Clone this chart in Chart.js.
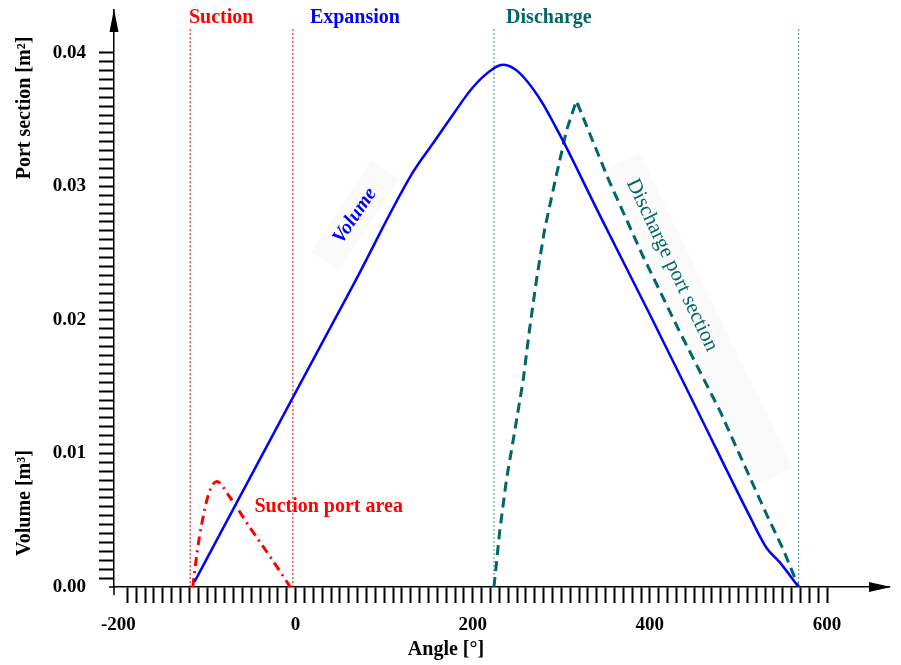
<!doctype html>
<html lang="en">
<head>
<meta charset="utf-8">
<title>Volume and port sections vs angle</title>
<style>
  * { margin: 0; padding: 0; }
  body { background: #fff; }
</style>
</head>
<body>
<canvas id="myChart" width="901" height="665"></canvas>
<script src="https://cdn.jsdelivr.net/npm/chart.js"></script>
<script>
// values: angle in degrees, volume in m3, port sections in m2
const volumeAngle = [-114, -3, 65, 132, 155, 178, 200, 223, 234, 247, 261, 279, 294, 302, 343, 400, 456, 512, 532, 546, 568];
const volumeM3    = [0.0004, 0.0142, 0.0226, 0.0310, 0.0332, 0.0354, 0.0374, 0.0388, 0.0391, 0.0388, 0.0379, 0.0362, 0.0344, 0.0334, 0.0279, 0.0204, 0.0129, 0.0054, 0.0029, 0.0019, 0.0000];

const dischargeAngle = [224, 230.5, 238, 247.5, 257, 264, 272, 281, 293, 306, 317, 354, 392, 433, 479, 532, 550, 568];
const dischargeM2    = [0.0000, 0.0042, 0.0080, 0.0117, 0.0155, 0.0192, 0.0230, 0.0267, 0.0304, 0.0342, 0.0364, 0.0304, 0.0248, 0.0192, 0.0132, 0.0054, 0.0029, 0.0000];

const suctionAngle = [-116, -111, -106, -98, -89, -74, -51, -29, -6];
const suctionM2    = [0.0000, 0.0027, 0.0047, 0.0070, 0.0079, 0.0067, 0.0044, 0.0023, 0.0000];

// phase limits (dotted verticals)
const suctionLimits   = [-119, -3];
const dischargeLimits = [224, 568];
const limitTop = 0.0419;

// axis ticks
const xMajorTicks = [-200, 0, 200, 400, 600];
const xMinorStep = 10;
const yMajorTicks = [0.00, 0.01, 0.02, 0.03, 0.04];
const yMinorPerMajor = 15;

const RED = '#ff0000', BLUE = '#0000ff', TEAL = '#006666';
const SERIF = "'Liberation Serif', 'Times New Roman', serif";

function pts(xs, ys) {
  return xs.map((a, i) => ({ x: a, y: ys[i] }));
}
function vline(a, color) {
  return {
    data: [{ x: a, y: 0 }, { x: a, y: limitTop }],
    borderColor: color, borderWidth: 1, borderDash: [2, 2],
    pointRadius: 0, tension: 0
  };
}

function drawText(ctx, text, px, py, rot, font, color, align) {
  ctx.save();
  ctx.translate(px, py);
  ctx.rotate(rot * Math.PI / 180);
  ctx.font = font;
  ctx.fillStyle = color;
  ctx.textAlign = align || 'center';
  ctx.textBaseline = 'middle';
  ctx.fillText(text, 0, 0);
  ctx.restore();
}
function band(ctx, px, py, rot, x0, x1, h) {
  ctx.save();
  ctx.translate(px, py);
  ctx.rotate(rot * Math.PI / 180);
  ctx.fillStyle = 'rgba(0,0,0,0.018)';
  ctx.fillRect(x0, -h / 2, x1 - x0, h);
  ctx.restore();
}

const decorations = {
  id: 'decorations',
  beforeDatasetsDraw(chart) {
    const { ctx, scales: { x, y } } = chart;
    // very faint shading behind the rotated curve labels
    band(ctx, x.getPixelForValue(67), y.getPixelForValue(0.0278), -57, -55, 55, 34);
    band(ctx, x.getPixelForValue(425), y.getPixelForValue(0.0241), 64, -115, 235, 40);
  },
  afterDraw(chart) {
    const { ctx, chartArea: a, scales: { x, y } } = chart;
    ctx.save();
    // axis overshoot + arrow heads
    ctx.strokeStyle = '#000';
    ctx.lineWidth = 1.5;
    ctx.beginPath();
    ctx.moveTo(a.left - 5, a.bottom); ctx.lineTo(a.left, a.bottom);
    ctx.moveTo(a.left, a.bottom); ctx.lineTo(a.left, a.bottom + 8);
    ctx.stroke();
    ctx.fillStyle = '#000';
    ctx.beginPath();
    ctx.moveTo(a.right + 2, a.bottom);
    ctx.lineTo(a.right - 20, a.bottom - 5);
    ctx.lineTo(a.right - 20, a.bottom + 5);
    ctx.closePath();
    ctx.fill();
    ctx.beginPath();
    ctx.moveTo(a.left, a.top - 1);
    ctx.lineTo(a.left - 4.5, a.top + 22);
    ctx.lineTo(a.left + 4.5, a.top + 22);
    ctx.closePath();
    ctx.fill();
    ctx.restore();

    const bold = 'bold 20px ' + SERIF;
    // axis titles
    drawText(ctx, 'Angle [°]', 446, 650, 0, bold, '#000');
    drawText(ctx, 'Port section [m²]', 25, 108, -90, bold, '#000');
    drawText(ctx, 'Volume [m³]', 25, 503, -90, bold, '#000');

    // phase names
    const top = y.getPixelForValue(0.0426);
    drawText(ctx, 'Suction', x.getPixelForValue(-84), top, 0, bold, RED);
    drawText(ctx, 'Expansion', x.getPixelForValue(67), top, 0, bold, BLUE);
    drawText(ctx, 'Discharge', x.getPixelForValue(286), top, 0, bold, TEAL);

    // curve labels
    drawText(ctx, 'Suction port area', x.getPixelForValue(-46.5), y.getPixelForValue(0.0060), 0, bold, RED, 'left');
    drawText(ctx, 'Volume', x.getPixelForValue(67), y.getPixelForValue(0.0278), -56, 'italic bold 20px ' + SERIF, BLUE);
    drawText(ctx, 'Discharge port section', x.getPixelForValue(425), y.getPixelForValue(0.0241), 64.5, '21px ' + SERIF, TEAL);
  }
};

const data = {
  datasets: [
    {
      label: 'Volume',
      data: pts(volumeAngle, volumeM3),
      borderColor: BLUE, borderWidth: 2.5,
      cubicInterpolationMode: 'monotone', pointRadius: 0
    },
    {
      label: 'Discharge port section',
      data: pts(dischargeAngle, dischargeM2),
      borderColor: TEAL, borderWidth: 3, borderDash: [10, 6],
      tension: 0, pointRadius: 0
    },
    {
      label: 'Suction port area',
      data: pts(suctionAngle, suctionM2),
      borderColor: RED, borderWidth: 3, borderDash: [9, 5, 2, 5],
      cubicInterpolationMode: 'monotone', pointRadius: 0
    },
    vline(suctionLimits[0], RED),
    vline(suctionLimits[1], RED),
    vline(dischargeLimits[0], '#3f8f8f'),
    vline(dischargeLimits[1], '#3f8f8f')
  ]
};

const config = {
  type: 'line',
  data,
  options: {
    responsive: false,
    animation: false,
    layout: { padding: { top: 10, right: 12, left: 0, bottom: 0 } },
    plugins: { legend: { display: false }, tooltip: { enabled: false } },
    scales: {
      x: {
        type: 'linear',
        min: -205, max: 670,
        afterBuildTicks(axis) {
          const t = [];
          for (let v = xMajorTicks[0]; v <= xMajorTicks[xMajorTicks.length - 1]; v += xMinorStep) t.push({ value: v });
          axis.ticks = t;
        },
        afterFit(scale) {
          scale.height = 78;
          scale.paddingLeft = 0;
          scale.paddingRight = 0;
        },
        grid: {
          drawOnChartArea: false, drawTicks: true, tickLength: 16,
          tickWidth: 2,
          tickColor: ctx => (ctx.tick && ctx.tick.value === xMajorTicks[0]) ? 'rgba(0,0,0,0)' : '#000'
        },
        border: { display: true, color: '#000', width: 1.5 },
        ticks: {
          autoSkip: false, maxRotation: 0, padding: 11,
          color: '#000', font: { family: SERIF, size: 19, weight: 'bold' },
          callback: v => xMajorTicks.includes(v) ? String(v) : ''
        }
      },
      y: {
        min: 0, max: 0.0432,
        afterBuildTicks(axis) {
          const step = (yMajorTicks[1] - yMajorTicks[0]) / yMinorPerMajor;
          const n = (yMajorTicks.length - 1) * yMinorPerMajor;
          const t = [];
          for (let i = 0; i <= n; i++) t.push({ value: yMajorTicks[0] + i * step });
          axis.ticks = t;
        },
        afterFit(scale) {
          scale.width = 114;
          scale.paddingTop = 0;
          scale.paddingBottom = 0;
        },
        grid: {
          drawOnChartArea: false, drawTicks: true, tickLength: 15,
          tickWidth: 2,
          tickColor: ctx => ctx.index === 0 ? 'rgba(0,0,0,0)' : '#000'
        },
        border: { display: true, color: '#000', width: 1.5 },
        ticks: {
          autoSkip: false, padding: 13,
          color: '#000', font: { family: SERIF, size: 19, weight: 'bold' },
          callback: (v, i) => i % yMinorPerMajor === 0 ? yMajorTicks[i / yMinorPerMajor].toFixed(2) : ''
        }
      }
    }
  },
  plugins: [decorations]
};

const myChart = new Chart(document.getElementById('myChart'), config);
</script>
</body>
</html>
